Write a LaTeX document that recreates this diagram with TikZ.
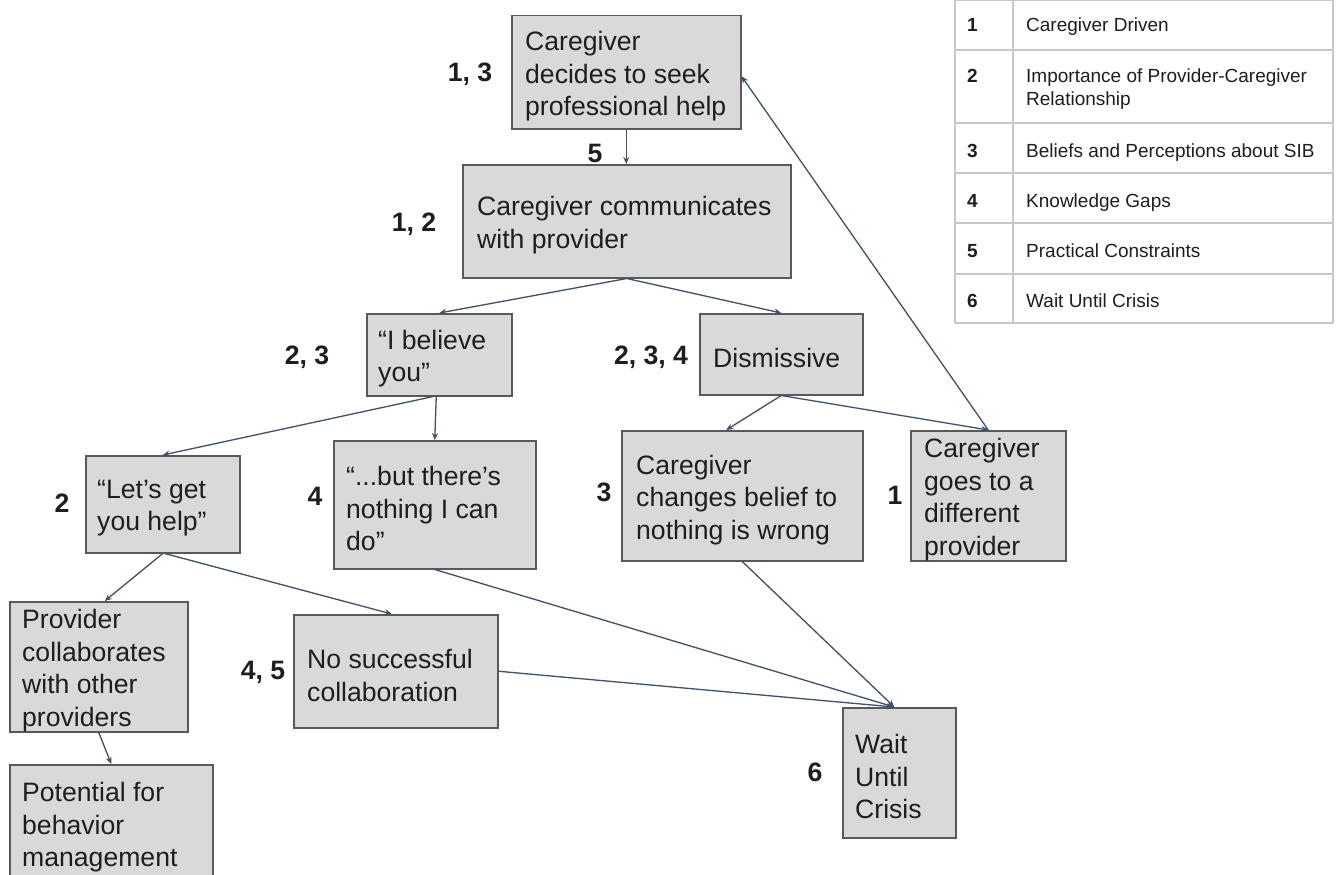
\documentclass[tikz,border=0pt]{standalone}
\usepackage{fontspec}
\setmainfont{Liberation Sans}
\usetikzlibrary{arrows.meta,calc}
\definecolor{boxfill}{HTML}{D9D9D9}
\definecolor{boxline}{HTML}{595959}
\definecolor{arr}{HTML}{3E506B}
\definecolor{txt}{HTML}{1E1E1E}
\definecolor{grid}{HTML}{C8C8C8}
\tikzset{
 box/.style={draw=boxline, fill=boxfill, line width=1.5pt, rectangle, inner sep=0pt, anchor=north west},
 btxt/.style={anchor=west, align=left, inner sep=0pt, text=txt, yshift=-4pt, font=\fontsize{26.6}{32.5}\selectfont},
 lab/.style={anchor=base, inner sep=0pt, text=txt, font=\fontsize{26.6}{32}\selectfont\bfseries},
 con/.style={draw=arr, line width=1.3pt, -{Stealth[length=7pt,width=6pt]}},
 tline/.style={draw=grid, line width=1.3pt},
 ttxt/.style={anchor=base west, inner sep=0pt, text=txt, font=\fontsize{19}{23}\selectfont},
 tnum/.style={ttxt, font=\fontsize{19}{23}\selectfont\bfseries},
}
\begin{document}
\begin{tikzpicture}[x=1pt,y=-1pt]
\useasboundingbox (0,0) rectangle (1339,875);
\clip (0,0) rectangle (1339,875);
\fill[white] (0,0) rectangle (1339,875);

% boxes
\node[box, minimum width=229pt, minimum height=113pt] (dec) at (511,15) {};
\node[box, minimum width=328pt, minimum height=113pt] (com) at (462,164) {};
\node[box, minimum width=145pt, minimum height=82pt] (bel) at (366,313) {};
\node[box, minimum width=163pt, minimum height=81pt] (dis) at (699,313) {};
\node[box, minimum width=154pt, minimum height=97pt] (hlp) at (85,455) {};
\node[box, minimum width=202pt, minimum height=128pt] (not) at (333,440) {};
\node[box, minimum width=241pt, minimum height=130pt] (chg) at (621,430) {};
\node[box, minimum width=155pt, minimum height=130pt] (dif) at (910,430) {};
\node[box, minimum width=178pt, minimum height=130pt] (col) at (9,601) {};
\node[box, minimum width=203pt, minimum height=117pt] (pot) at (9,764) {};
\node[box, minimum width=204pt, minimum height=113pt] (nos) at (293,614) {};
\node[box, minimum width=113pt, minimum height=130pt] (wai) at (842,707) {};

% box texts
\node[btxt] (decT) at ([xshift=14pt]dec.west) {Caregiver\\decides to seek\\professional help};
\node[btxt] (comT) at ([xshift=15pt]com.west) {Caregiver communicates\\with provider};
\node[btxt] (belT) at ([xshift=12pt]bel.west) {“I believe\\you”};
\node[btxt] (disT) at ([xshift=14pt]dis.west) {Dismissive};
\node[btxt] (hlpT) at ([xshift=12pt]hlp.west) {“Let’s get\\you help”};
\node[btxt] (notT) at ([xshift=13pt]not.west) {“...but there’s\\nothing I can\\do”};
\node[btxt] (chgT) at ([xshift=15pt]chg.west) {Caregiver\\changes belief to\\nothing is wrong};
\node[btxt] (difT) at ([xshift=14pt]dif.west) {Caregiver\\goes to a\\different\\provider};
\node[btxt] (colT) at ([xshift=13pt]col.west) {Provider\\collaborates\\with other\\providers};
\node[btxt] (potT) at ([xshift=13pt]pot.west) {Potential for\\behavior\\management};
\node[btxt] (nosT) at ([xshift=14pt]nos.west) {No successful\\collaboration};
\node[btxt] (waiT) at ([xshift=13pt]wai.west) {Wait\\Until\\Crisis};

% labels
\node[lab] (l1) at (470,81.5) {1, 3};
\node[lab] (l2) at (595,162.5) {5};
\node[lab] (l3) at (414,231.5) {1, 2};
\node[lab] (l4) at (307,364.5) {2, 3};
\node[lab] (l5) at (651,364.5) {2, 3, 4};
\node[lab] (l6) at (62,512.5) {2};
\node[lab] (l7) at (315,505.5) {4};
\node[lab] (l8) at (604,501.5) {3};
\node[lab] (l9) at (895,504.5) {1};
\node[lab] (l10) at (263,679.5) {4, 5};
\node[lab] (l11) at (815,781.5) {6};

% connectors
\draw[con] (dec.south) -- (dec.south |- com.north);
\draw[con] (com.south) -- (bel.north);
\draw[con] (com.south) -- (dis.north);
\draw[con] ([xshift=-6pt]bel.south) -- (hlp.north);
\draw[con] ([xshift=-3pt]bel.south) -- (not.north);
\draw[con] (dis.south) -- ([xshift=-16pt]chg.north);
\draw[con] (dis.south) -- (dif.north);
\draw[con] (dif.north) -- ([yshift=-4pt]dec.east);
\draw[con] (hlp.south) -- ([xshift=6pt]col.north);
\draw[con] ([xshift=2pt]hlp.south) -- ([xshift=-4pt]nos.north);
\draw[con] (col.south) -- (pot.north);
\draw[con] (not.south) -- ([xshift=-5pt]wai.north);
\draw[con] (chg.south) -- ([xshift=-5pt]wai.north);
\draw[con] (nos.east) -- ([xshift=-5pt]wai.north);

% legend table
\draw[tline] (955,0.7) rectangle (1333,323);
\draw[tline] (1013,0.7) -- (1013,323);
\foreach \yy in {50,123,173,223,274} \draw[tline] (955,\yy) -- (1333,\yy);
\node[tnum] (n1) at (967,32) {1};
\node[ttxt] (t1) at (1026,32) {Caregiver Driven};
\node[tnum] (n2) at (967,83) {2};
\node[ttxt] (t2a) at (1026,83) {Importance of Provider-Caregiver};
\node[ttxt] (t2b) at (1026,106) {Relationship};
\node[tnum] (n3) at (967,157) {3};
\node[ttxt] (t3) at (1026,157) {Beliefs and Perceptions about SIB};
\node[tnum] (n4) at (967,207) {4};
\node[ttxt] (t4) at (1026,207) {Knowledge Gaps};
\node[tnum] (n5) at (967,257) {5};
\node[ttxt] (t5) at (1026,257) {Practical Constraints};
\node[tnum] (n6) at (967,307) {6};
\node[ttxt] (t6) at (1026,307) {Wait Until Crisis};
\end{tikzpicture}
\end{document}
